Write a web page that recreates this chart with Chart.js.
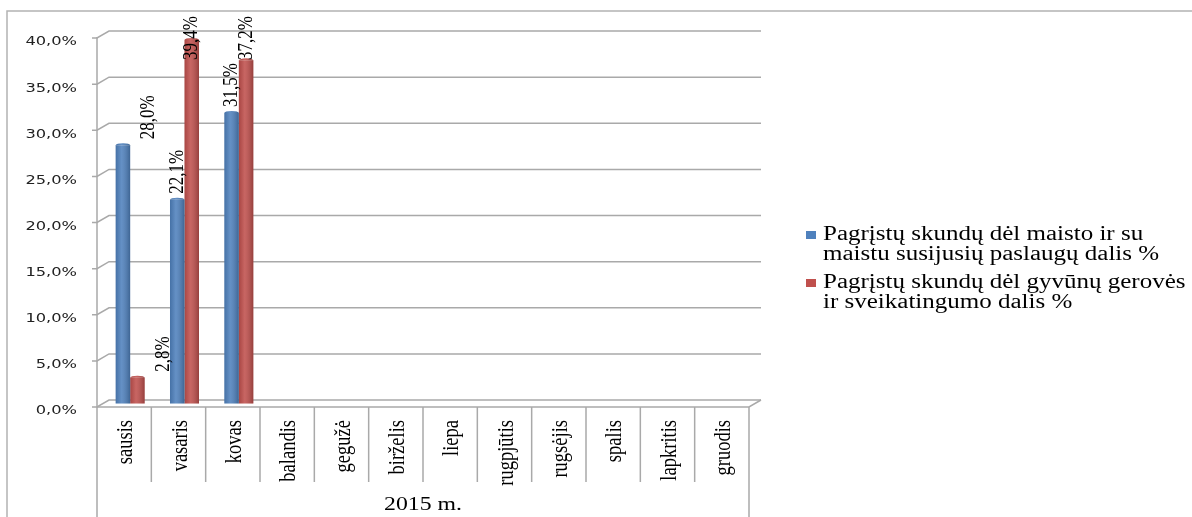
<!DOCTYPE html>
<html>
<head>
<meta charset="utf-8">
<script src="https://cdn.jsdelivr.net/npm/chart.js@4/dist/chart.umd.min.js"></script>
<style>
  body { margin: 0; background: #fff; }
  #wrap { width: 1192px; height: 517px; }
</style>
</head>
<body>
<div id="wrap"><canvas id="myChart"></canvas></div>
<script>
var months = ['sausis', 'vasaris', 'kovas', 'balandis', 'gegužė', 'birželis', 'liepa', 'rugpjūtis', 'rugsėjis', 'spalis', 'lapkritis', 'gruodis'];
var maistoValues = [28.0, 22.1, 31.5, null, null, null, null, null, null, null, null, null];
var gyvunuValues = [2.8, 39.4, 37.2, null, null, null, null, null, null, null, null, null];
var maistoName = ['Pagrįstų skundų dėl maisto ir su', 'maistu susijusių paslaugų dalis %'];
var gyvunuName = ['Pagrįstų skundų dėl gyvūnų gerovės', 'ir sveikatingumo dalis %'];
var yearLabel = '2015 m.';

var blue = '#4f81bd';
var red = '#c0504d';
var depthX = 12, depthY = -7;   // fake 3D wall offset
var stretch = 1.25;             // the original picture is wider than its fonts
var labelNudge = [26, 0, 0, 0, 0, 0, 0, 0, 0, 0, 0, 0]; // sausis labels were moved aside
var gridColor = '#a9a9a9';

function pct(v) {
    return v.toFixed(1).replace('.', ',') + '%';
}

// bars stand in the middle of the depth
var shiftBars = {
    id: 'shiftBars',
    afterDatasetsUpdate: function (chart) {
        chart.data.datasets.forEach(function (ds, i) {
            chart.getDatasetMeta(i).data.forEach(function (el) {
                el.x += depthX / 2;
                el.y += depthY / 2;
                el.base += depthY / 2;
            });
        });
    }
};

var frame3d = {
    id: 'frame3d',
    beforeDatasetsDraw: function (chart) {
        var ctx = chart.ctx, a = chart.chartArea, x = chart.scales.x, y = chart.scales.y;
        var H = chart.height;
        ctx.save();
        ctx.strokeStyle = '#b3b3b3';
        ctx.lineWidth = 1.5;
        ctx.beginPath();
        ctx.moveTo(7, H); ctx.lineTo(7, 11); ctx.lineTo(chart.width, 11);
        ctx.stroke();

        ctx.strokeStyle = gridColor;
        y.ticks.forEach(function (t) {
            var py = y.getPixelForValue(t.value);
            ctx.beginPath();
            ctx.moveTo(a.left - 5, py);
            ctx.lineTo(a.left, py);
            ctx.lineTo(a.left + depthX, py + depthY);
            ctx.lineTo(a.right + depthX, py + depthY);
            ctx.stroke();
        });
        ctx.beginPath();
        ctx.moveTo(a.left, a.top - 1); ctx.lineTo(a.left, H);
        ctx.moveTo(a.left, a.bottom); ctx.lineTo(a.right, a.bottom);
        ctx.lineTo(a.right + depthX, a.bottom + depthY);
        ctx.moveTo(a.right, a.bottom); ctx.lineTo(a.right, H);
        for (var i = 0; i < months.length - 1; i++) {
            var sx = (x.getPixelForValue(i) + x.getPixelForValue(i + 1)) / 2;
            ctx.moveTo(sx, a.bottom); ctx.lineTo(sx, a.bottom + 75);
        }
        ctx.stroke();

        // y tick labels
        ctx.fillStyle = '#222';
        ctx.font = '13px "DejaVu Sans"';
        ctx.textAlign = 'right';
        ctx.textBaseline = 'middle';
        y.ticks.forEach(function (t) {
            var py = y.getPixelForValue(t.value);
            ctx.save();
            ctx.translate(a.left - 20, py + 4);
            ctx.scale(stretch, 1);
            ctx.fillText(pct(t.value), 0, 0);
            ctx.restore();
        });

        // month labels, rotated
        ctx.fillStyle = '#000';
        ctx.font = '18.5px "Liberation Serif"';
        ctx.textAlign = 'right';
        x.ticks.forEach(function (t, i) {
            ctx.save();
            ctx.translate(x.getPixelForValue(i) + 2, a.bottom + 13);
            ctx.rotate(-Math.PI / 2);
            ctx.scale(1, stretch);
            ctx.fillText(months[i], 0, 0);
            ctx.restore();
        });
        ctx.restore();
    },
    afterDatasetsDraw: function (chart) {
        var ctx = chart.ctx;
        ctx.save();
        chart.data.datasets.forEach(function (ds, i) {
            var col = i === 0 ? blue : red;
            chart.getDatasetMeta(i).data.forEach(function (el, j) {
                if (ds.data[j] == null) return;
                var l = el.x - el.width / 2, w = el.width;
                ctx.fillStyle = col;
                ctx.beginPath();
                ctx.ellipse(el.x, el.y, w / 2, 2, 0, Math.PI, Math.PI * 2);
                ctx.fill();
                var g = ctx.createLinearGradient(l, 0, l + w, 0);
                g.addColorStop(0, 'rgba(0,0,0,0.12)');
                g.addColorStop(0.4, 'rgba(255,255,255,0.12)');
                g.addColorStop(1, 'rgba(0,0,0,0.22)');
                ctx.fillStyle = g;
                ctx.beginPath();
                ctx.ellipse(el.x, el.y, w / 2, 2, 0, Math.PI, Math.PI * 2);
                ctx.lineTo(l + w, el.base);
                ctx.lineTo(l, el.base);
                ctx.closePath();
                ctx.fill();
            });
        });

        // data labels, rotated
        ctx.fillStyle = '#000';
        ctx.font = '17px "Liberation Serif"';
        ctx.textAlign = 'left';
        ctx.textBaseline = 'middle';
        chart.data.datasets.forEach(function (ds, i) {
            chart.getDatasetMeta(i).data.forEach(function (el, j) {
                if (ds.data[j] == null) return;
                var txt = pct(ds.data[j]);
                var tw = ctx.measureText(txt).width;
                var bottom = Math.max(el.y - 6, 16 + tw);
                ctx.save();
                ctx.translate(el.x + labelNudge[j], bottom);
                ctx.rotate(-Math.PI / 2);
                ctx.scale(1, stretch);
                ctx.fillText(txt, 0, 0);
                ctx.restore();
            });
        });
        ctx.restore();
    },
    afterDraw: function (chart) {
        var ctx = chart.ctx, a = chart.chartArea;
        ctx.save();
        ctx.fillStyle = '#000';
        ctx.font = '19px "Liberation Serif"';
        ctx.textAlign = 'center';
        ctx.textBaseline = 'alphabetic';
        ctx.save();
        ctx.translate((a.left + a.right) / 2, 510);
        ctx.scale(stretch, 1);
        ctx.fillText(yearLabel, 0, 0);
        ctx.restore();

        // legend
        var items = [[blue, maistoName, 240], [red, gyvunuName, 288]];
        ctx.font = '20px "Liberation Serif"';
        ctx.textAlign = 'left';
        items.forEach(function (it) {
            ctx.fillStyle = it[0];
            ctx.fillRect(806, it[2] - 9, 10, 8);
            ctx.fillStyle = '#000';
            it[1].forEach(function (line, k) {
                ctx.save();
                ctx.translate(823, it[2] + k * 20);
                ctx.scale(stretch, 1);
                ctx.fillText(line, 0, 0);
                ctx.restore();
            });
        });
        ctx.restore();
    }
};

var ctx = document.getElementById('myChart').getContext('2d');
var myChart = new Chart(ctx, {
    type: 'bar',
    data: {
        labels: months,
        datasets: [{
            label: maistoName.join(' '),
            data: maistoValues,
            backgroundColor: blue
        }, {
            label: gyvunuName.join(' '),
            data: gyvunuValues,
            backgroundColor: red
        }]
    },
    options: {
        responsive: true,
        maintainAspectRatio: false,
        animation: false,
        layout: {
            padding: { left: 0, right: 443, top: 38, bottom: 0 }
        },
        datasets: {
            bar: { categoryPercentage: 0.534, barPercentage: 1.0 }
        },
        plugins: {
            legend: { display: false },
            tooltip: { enabled: false }
        },
        scales: {
            y: {
                min: 0,
                max: 40,
                ticks: { stepSize: 5, display: false },
                grid: { display: false },
                border: { display: false },
                afterFit: function (s) { s.width = 97; }
            },
            x: {
                grid: { display: false },
                border: { display: false },
                ticks: { autoSkip: false, display: false },
                afterFit: function (s) { s.height = 110; }
            }
        }
    },
    plugins: [shiftBars, frame3d]
});
</script>
</body>
</html>
